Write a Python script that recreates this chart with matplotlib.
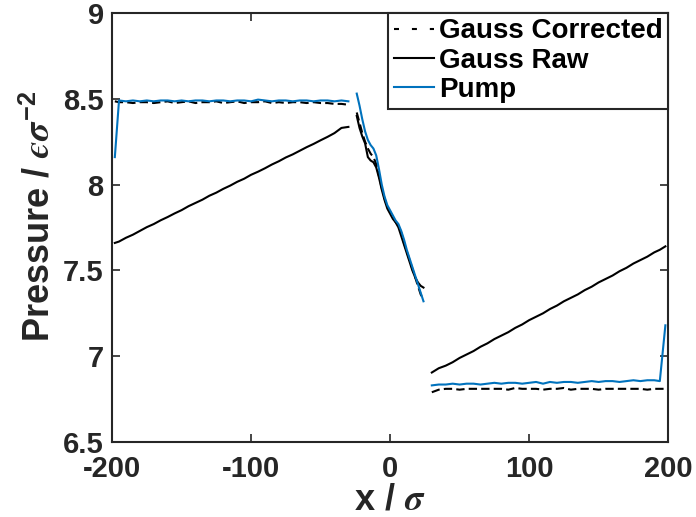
import numpy as np
import matplotlib
matplotlib.use('Agg')
import matplotlib.pyplot as plt
from matplotlib.lines import Line2D

plt.rcParams['font.family'] = ['Liberation Sans', 'DejaVu Sans']
plt.rcParams['font.weight'] = 'bold'
plt.rcParams['axes.unicode_minus'] = False
plt.rcParams['mathtext.fontset'] = 'custom'
plt.rcParams['mathtext.rm'] = 'Liberation Sans:bold'
plt.rcParams['mathtext.bf'] = 'Liberation Sans:bold'
plt.rcParams['mathtext.it'] = 'STIXGeneral:italic'

# left reservoir
x_left = [-198, -195, -190, -185, -180, -175, -170, -165, -160, -155, -150, -145,
          -140, -135, -130, -125, -120, -115, -110, -105, -100, -95, -90, -85,
          -80, -75, -70, -65, -60, -55, -50, -45, -40, -35, -30]
pump_left = [8.16, 8.49, 8.485, 8.49, 8.485, 8.49, 8.485, 8.49, 8.49, 8.485,
             8.49, 8.485, 8.49, 8.49, 8.485, 8.49, 8.49, 8.485, 8.49, 8.49,
             8.485, 8.495, 8.49, 8.485, 8.49, 8.49, 8.485, 8.49, 8.49, 8.485,
             8.49, 8.49, 8.485, 8.49, 8.485]
corr_left = [8.485, 8.48, 8.48, 8.475, 8.48, 8.48, 8.475, 8.48, 8.485, 8.475,
             8.48, 8.485, 8.475, 8.48, 8.48, 8.485, 8.475, 8.48, 8.485, 8.475,
             8.48, 8.48, 8.485, 8.475, 8.48, 8.475, 8.48, 8.48, 8.475, 8.48,
             8.475, 8.475, 8.47, 8.47, 8.465]
raw_left = [7.660, 7.668, 7.690, 7.708, 7.730, 7.752, 7.770, 7.792, 7.811, 7.832,
            7.851, 7.874, 7.893, 7.912, 7.935, 7.953, 7.975, 7.994, 8.016, 8.034,
            8.057, 8.075, 8.095, 8.117, 8.136, 8.158, 8.176, 8.197, 8.218, 8.237,
            8.258, 8.278, 8.300, 8.330, 8.336]

# constriction
x_mid = [-24, -22, -20, -18, -16, -14, -12, -10, -8, -6, -4, -2, 0,
         2, 4, 6, 8, 10, 12, 14, 16, 18, 20, 22, 24]
pump_mid = [8.53, 8.46, 8.38, 8.31, 8.26, 8.23, 8.21, 8.17, 8.09, 8.00, 7.93, 7.88, 7.85,
            7.82, 7.79, 7.77, 7.73, 7.68, 7.62, 7.57, 7.52, 7.47, 7.42, 7.37, 7.32]
corr_mid = [8.42, 8.36, 8.30, 8.25, 8.21, 8.18, 8.16, 8.12, 8.05, 7.98, 7.92, 7.87, 7.84,
            7.81, 7.78, 7.76, 7.72, 7.66, 7.61, 7.56, 7.51, 7.46, 7.41, 7.36, 7.33]
raw_mid = [8.40, 8.33, 8.28, 8.24, 8.16, 8.14, 8.13, 8.10, 8.04, 7.97, 7.91, 7.86, 7.83,
           7.80, 7.78, 7.75, 7.70, 7.65, 7.60, 7.55, 7.50, 7.46, 7.43, 7.41, 7.40]

# right reservoir
x_right = [30, 35, 40, 45, 50, 55, 60, 65, 70, 75, 80, 85, 90, 95, 100, 105, 110,
           115, 120, 125, 130, 135, 140, 145, 150, 155, 160, 165, 170, 175, 180, 185,
           190, 194, 198]
pump_right = [6.83, 6.835, 6.835, 6.84, 6.835, 6.84, 6.84, 6.835, 6.84, 6.845, 6.84, 6.845,
              6.845, 6.84, 6.845, 6.85, 6.84, 6.85, 6.845, 6.85, 6.85, 6.845, 6.85, 6.855,
              6.85, 6.855, 6.855, 6.85, 6.855, 6.86, 6.855, 6.86, 6.86, 6.855, 7.18]
corr_right = [6.79, 6.805, 6.81, 6.81, 6.805, 6.81, 6.81, 6.81, 6.81, 6.81, 6.81, 6.805,
              6.815, 6.81, 6.81, 6.81, 6.805, 6.81, 6.81, 6.815, 6.805, 6.81, 6.81, 6.81,
              6.805, 6.81, 6.81, 6.81, 6.81, 6.81, 6.81, 6.805, 6.81, 6.81, 6.81]
raw_right = [6.905, 6.93, 6.945, 6.965, 6.99, 7.01, 7.03, 7.055, 7.075, 7.10, 7.12, 7.14,
             7.165, 7.185, 7.21, 7.23, 7.25, 7.275, 7.295, 7.32, 7.34, 7.36, 7.385, 7.405,
             7.43, 7.45, 7.47, 7.495, 7.515, 7.54, 7.56, 7.58, 7.605, 7.62, 7.64]

blue = '#0072BD'
dark = '#262626'
dash = (4, 2)

fig = plt.figure(figsize=(6.96, 5.17), dpi=100)
ax = fig.add_axes([0.161, 0.145, 0.799, 0.830])

segs = [(x_left, corr_left, raw_left, pump_left),
        (x_mid, corr_mid, raw_mid, pump_mid),
        (x_right, corr_right, raw_right, pump_right)]
for xs, c, r, p in segs:
    ax.plot(xs, c, color='k', lw=1.5, linestyle=(0, dash))
    ax.plot(xs, r, color='k', lw=1.5)
    ax.plot(xs, p, color=blue, lw=1.5)

ax.set_xlim(-200, 200)
ax.set_ylim(6.5, 9)
ax.set_xticks([-200, -100, 0, 100, 200])
ax.set_yticks([6.5, 7, 7.5, 8, 8.5, 9])
ax.set_yticklabels(['6.5', '7', '7.5', '8', '8.5', '9'])
ax.tick_params(direction='in', length=6, width=1.2, top=True, right=True,
               labelsize=21, colors=dark)
ax.tick_params(axis='x', pad=9)
ax.tick_params(axis='y', pad=6)
for s in ax.spines.values():
    s.set_linewidth(1.5)
    s.set_color(dark)

ax.set_xlabel('x / $\\sigma$', fontsize=26, fontweight='bold', color=dark, labelpad=0)
ax.set_ylabel('Pressure / $\u03f5\\sigma^{\\mathrm{-2}}$', fontsize=26,
              fontweight='bold', color=dark)
ax.yaxis.set_label_coords(-0.099, 0.527)

# legend with its own handles (short dashes, as in the original)
handles = [Line2D([], [], color='k', lw=1.5, linestyle=(0, (2.4, 6.2))),
           Line2D([], [], color='k', lw=1.5),
           Line2D([], [], color=blue, lw=1.5)]
leg = ax.legend(handles, ['Gauss Corrected', 'Gauss Raw', 'Pump'],
                loc='upper right', bbox_to_anchor=(1.0, 1.0), fontsize=20,
                frameon=True, fancybox=False, framealpha=1, edgecolor=dark,
                handlelength=1.45, handletextpad=0.18, labelspacing=0.12,
                borderpad=0.2, borderaxespad=0)
leg.get_frame().set_linewidth(1.5)
for t in leg.get_texts():
    t.set_fontweight('bold')
    t.set_color('k')

fig.savefig('out.png', dpi=100)
